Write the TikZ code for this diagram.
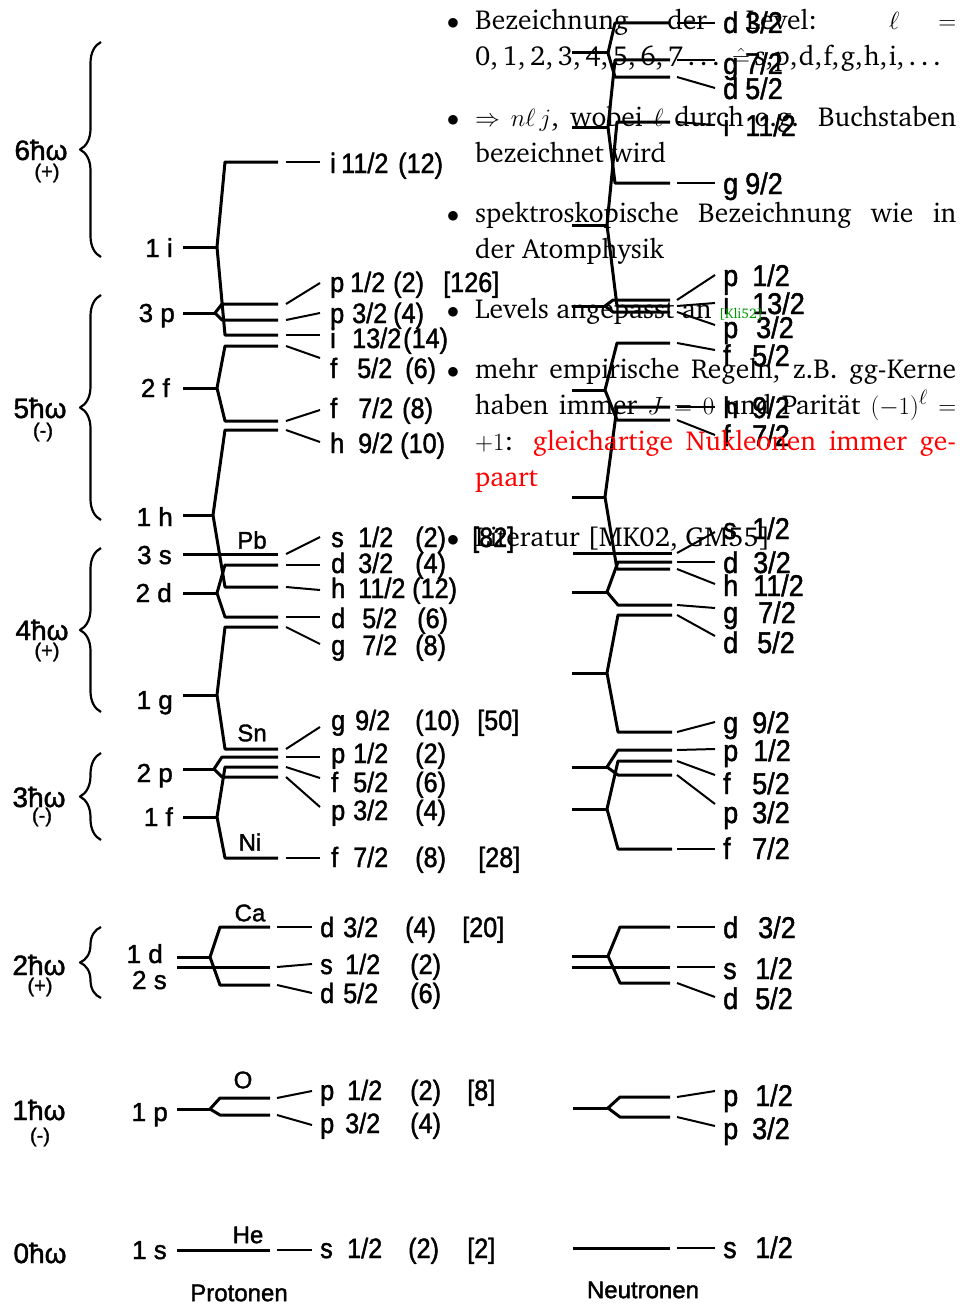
\documentclass[tikz,border=0pt]{standalone}
\usepackage[T1]{fontenc}
\usepackage{fontspec}
\usetikzlibrary{decorations.pathreplacing}

\newfontfamily\scanfont[FakeStretch=0.9, FakeBold=1.5]{Liberation Sans}
\newfontfamily\scanwide[FakeBold=1.5]{Liberation Sans}
\newcommand\slidefont{\fontencoding{T1}\fontfamily{bch}\selectfont}

% one shell splitting into two j-levels:
% stem x0, branch x, target x, line end x, stem y, upper y, lower y
\newcommand\lvsplit[7]{%
  \draw[lvl] (#1,#5) -- (#2,#5);
  \draw[lvl] (#4,#6) -- (#3,#6) -- (#2,#5) -- (#3,#7) -- (#4,#7);}

\tikzset{
  lvl/.style={line width=3pt},
  dsh/.style={line width=2pt},
  hwbrace/.style={decorate, decoration={brace, amplitude=21pt}, line width=2.2pt},
  hwlab/.style={inner sep=0pt, font=\fontsize{28}{28}\scanwide},
  parlab/.style={inner sep=0pt, font=\fontsize{20}{20}\scanwide},
  shlab/.style={anchor=base east, inner sep=0pt, yshift=-9pt, font=\fontsize{26}{26}\scanwide},
  nuclab/.style={inner sep=0pt, font=\fontsize{24}{24}\scanwide},
  jlab/.style={anchor=base west, inner sep=0pt, yshift=-10pt, font=\fontsize{28}{28}\scanfont},
  nlab/.style={anchor=base west, inner sep=0pt, yshift=-11pt, font=\fontsize{30}{30}\scanfont},
  txt/.style={anchor=base west, inner sep=0pt, font=\fontsize{27.5}{33}\slidefont},
  bul/.style={anchor=base, inner sep=0pt, font=\fontsize{27.5}{33}\selectfont},
}

\begin{document}
\begin{tikzpicture}[x=1pt, y=-1pt, line join=round]
  \useasboundingbox (0,0) rectangle (960,1306);

  % oscillator shells N hbar omega with parity
  \foreach \y/\n/\x in {150/6/41, 408/5/40, 630/4/42, 797/3/39, 965/2/39, 1110/1/39, 1253/0/40}
    \node[hwlab] (hw\n) at (\x,\y) {\n ħω};
  \foreach \y/\n/\x/\p in {173/6/47/(+), 432/5/43/(-), 652/4/47/(+), 817/3/42/(-), 987/2/40/(+), 1137/1/40/(-)}
    \node[parlab] (par\n) at (\x,\y) {\p};
  \foreach \ya/\yb in {257/42, 520/295, 712/548, 840/753, 998/927}
    \draw[hwbrace] (101,\ya) -- (101,\yb);

  % shell labels n l
  \foreach \y/\x/\t [count=\i] in {248/173/1 i, 313/175/3 p, 388/170/2 f, 517/173/1 h,
      555/172/3 s, 593/172/2 d, 700/173/1 g, 773/173/2 p, 817/173/1 f,
      954/163/1 d, 980/167/2 s, 1112/168/1 p, 1250/167/1 s}
    \node[shlab] (sh\i) at (\x,\y) {\t};

  % protons: splitting
  \lvsplit{183}{217}{225}{278}{247}{162}{335}  % 1i
  \lvsplit{183}{215}{222}{278}{313}{304}{320}  % 3p
  \lvsplit{183}{217}{225}{278}{388}{346}{421}  % 2f
  \lvsplit{183}{213}{225}{278}{515}{430}{587}  % 1h
  \draw[lvl] (183,554) -- (278,554);           % 3s
  \lvsplit{183}{217}{225}{278}{593}{565}{617}  % 2d
  \lvsplit{183}{217}{225}{278}{695}{627}{749}  % 1g
  \lvsplit{183}{214}{222}{278}{769}{757}{777}  % 2p
  \lvsplit{183}{217}{225}{278}{817}{767}{858}  % 1f
  \lvsplit{177}{210}{220}{270}{957}{927}{985}  % 1d
  \draw[lvl] (177,967) -- (270,967);           % 2s
  \lvsplit{177}{210}{220}{270}{1109}{1098}{1115} % 1p
  \draw[lvl] (177,1250) -- (270,1250);         % 1s
  \foreach \ya/\yb in {162/162, 304/283, 320/313, 335/335, 346/358, 421/410, 430/442,
      554/537, 565/565, 587/590, 617/617, 627/644, 749/727, 757/757, 767/778, 777/807, 858/858}
    \draw[dsh] (286,\ya) -- (320,\yb);
  \foreach \ya/\yb in {927/927, 967/964, 985/993, 1098/1091, 1115/1125, 1250/1250}
    \draw[dsh] (277,\ya) -- (312,\yb);

  % protons: j-levels, occupation, magic numbers
  \foreach \y/\lx/\lt/\fx/\fr/\dx/\dg [count=\i] in {
      163/330/i/341/{11/2}/398/(12), 282/330/p/350/{1/2}/393/(2), 313/330/p/352/{3/2}/393/(4),
      338/330/i/352/{13/2}/403/(14), 368/330/f/357/{5/2}/405/(6), 408/330/f/358/{7/2}/402/(8),
      443/330/h/358/{9/2}/400/(10),
      537/331/s/358/{1/2}/415/(2), 563/331/d/358/{3/2}/415/(4), 588/331/h/358/{11/2}/412/(12),
      618/331/d/362/{5/2}/417/(6), 645/331/g/362/{7/2}/415/(8),
      720/331/g/355/{9/2}/415/(10), 753/331/p/353/{1/2}/415/(2), 782/331/f/353/{5/2}/415/(6),
      810/331/p/353/{3/2}/415/(4), 857/331/f/353/{7/2}/415/(8),
      927/320/d/343/{3/2}/405/(4), 964/320/s/345/{1/2}/410/(2), 993/320/d/343/{5/2}/410/(6),
      1090/320/p/347/{1/2}/410/(2), 1123/320/p/345/{3/2}/410/(4), 1248/320/s/347/{1/2}/408/(2)} {
    \node[jlab] (pl\i) at (\lx,\y) {\lt};
    \node[jlab] (pf\i) at (\fx,\y) {\fr};
    \node[jlab] (pd\i) at (\dx,\y) {\dg};
  }
  \foreach \y/\x/\m in {282/443/126, 537/472/82, 720/477/50, 857/478/28, 927/462/20, 1090/467/8, 1248/467/2}
    \node[jlab] (magic\m) at (\x,\y) {[\m]};

  % closed shells
  \node[nuclab] (pb) at (252,540) {Pb};
  \node[nuclab] (sn) at (252,733) {Sn};
  \node[nuclab] (ni) at (250,842) {Ni};
  \node[nuclab] (ca) at (250,913) {Ca};
  \node[nuclab] (ox) at (243,1080) {O};
  \node[nuclab] (he) at (248,1235) {He};
  \node[nuclab] (prot) at (239,1293) {Protonen};
  \node[nuclab] (neut) at (643,1290) {Neutronen};

  % neutrons: splitting
  \lvsplit{572}{608}{615}{670}{53}{23}{77}     % 3d
  \lvsplit{572}{608}{615}{670}{127}{60}{183}   % 2g
  \lvsplit{572}{607}{617}{670}{225}{122}{306}  % 1i
  \lvsplit{572}{605}{613}{670}{306}{300}{312}  % 3p
  \lvsplit{572}{605}{617}{670}{390}{343}{420}  % 2f
  \lvsplit{572}{605}{617}{670}{497}{407}{569}  % 1h
  \draw[lvl] (573,553) -- (672,553);           % 3s
  \lvsplit{572}{607}{618}{672}{592}{562}{605}  % 2d
  \lvsplit{572}{607}{618}{672}{673}{615}{732}  % 1g
  \lvsplit{572}{607}{618}{672}{767}{750}{775}  % 2p
  \lvsplit{572}{607}{618}{672}{809}{761}{849}  % 1f
  \lvsplit{572}{608}{620}{670}{956}{927}{983}  % 1d
  \draw[lvl] (572,967) -- (670,967);           % 2s
  \lvsplit{573}{608}{620}{670}{1108}{1097}{1117} % 1p
  \draw[lvl] (573,1248) -- (670,1248);         % 1s
  \foreach \ya/\yb in {23/23, 60/60, 77/88, 122/125, 183/183, 300/275, 306/303, 312/325,
      343/350, 407/407, 420/435, 553/532, 562/562, 569/584, 605/608, 615/636, 732/722,
      750/749, 761/775, 775/804, 849/849, 927/927, 967/967, 983/997, 1097/1091, 1117/1126, 1248/1248}
    \draw[dsh] (677,\ya) -- (715,\yb);

  % neutrons: j-levels
  \foreach \y/\lt/\fx/\fr [count=\i] in {
      22/d/745/{3/2}, 63/g/745/{7/2}, 88/d/745/{5/2}, 125/i/745/{11/2}, 183/g/745/{9/2},
      275/p/752/{1/2}, 303/i/752/{13/2}, 327/p/756/{3/2}, 355/f/752/{5/2}, 407/h/752/{9/2},
      435/f/752/{7/2}, 528/s/752/{1/2}, 562/d/753/{3/2}, 585/h/753/{11/2}, 612/g/758/{7/2},
      642/d/757/{5/2}, 722/g/752/{9/2}, 750/p/753/{1/2}, 783/f/752/{5/2}, 812/p/752/{3/2},
      848/f/752/{7/2}, 927/d/758/{3/2}, 968/s/755/{1/2}, 998/d/755/{5/2}, 1095/p/755/{1/2},
      1128/p/752/{3/2}, 1247/s/755/{1/2}} {
    \node[nlab] (nl\i) at (723,\y) {\lt};
    \node[nlab] (nf\i) at (\fx,\y) {\fr};
  }

  % slide text on top of the scan
  \foreach \y [count=\i] in {30, 126, 222, 318, 378, 546}
    \node[bul] (b\i) at (453,\y) {$\bullet$};
  \node[txt] (t1) at (475,30) {\makebox[481pt][s]{Bezeichnung der Level: $\ell$ $=$}};
  \node[txt] (t2) at (475,66) {0,\,1,\,2,\,3,\,4,\,5,\,6,\,7\,\ldots\ $\hat{=}$\,s,\kern1.5pt p,\kern1.5pt d,\kern1.5pt f,\kern1.5pt g,\kern1.5pt h,\kern1.5pt i,\,\ldots};
  \node[txt] (t3) at (475,126) {\makebox[481pt][s]{$\Rightarrow$ $n\ell\,j$, wobei $\ell$ durch o.g. Buchstaben}};
  \node[txt] (t4) at (475,162) {bezeichnet wird};
  \node[txt] (t5) at (475,222) {\makebox[481pt][s]{spektroskopische Bezeichnung wie in}};
  \node[txt] (t6) at (475,258) {der Atomphysik};
  \node[txt] (t7) at (475,318) {Levels angepasst an {\color{green!60!black}\fontsize{14}{14}\selectfont[Kli52]}};
  \node[txt] (t8) at (475,378) {\makebox[481pt][s]{mehr empirische Regeln, z.B. gg-Kerne}};
  \node[txt] (t9) at (475,414) {\makebox[481pt][s]{haben immer $J=0$ und Parit\"at $(-1)^{\ell}$ $=$}};
  \node[txt] (t10) at (475,450) {\makebox[481pt][s]{$+1$: \color{red}gleichartige Nukleonen immer ge-}};
  \node[txt, text=red] (t11) at (475,486) {paart};
  \node[txt] (t12) at (475,546) {Literatur [MK02, GM55]};
\end{tikzpicture}
\end{document}
